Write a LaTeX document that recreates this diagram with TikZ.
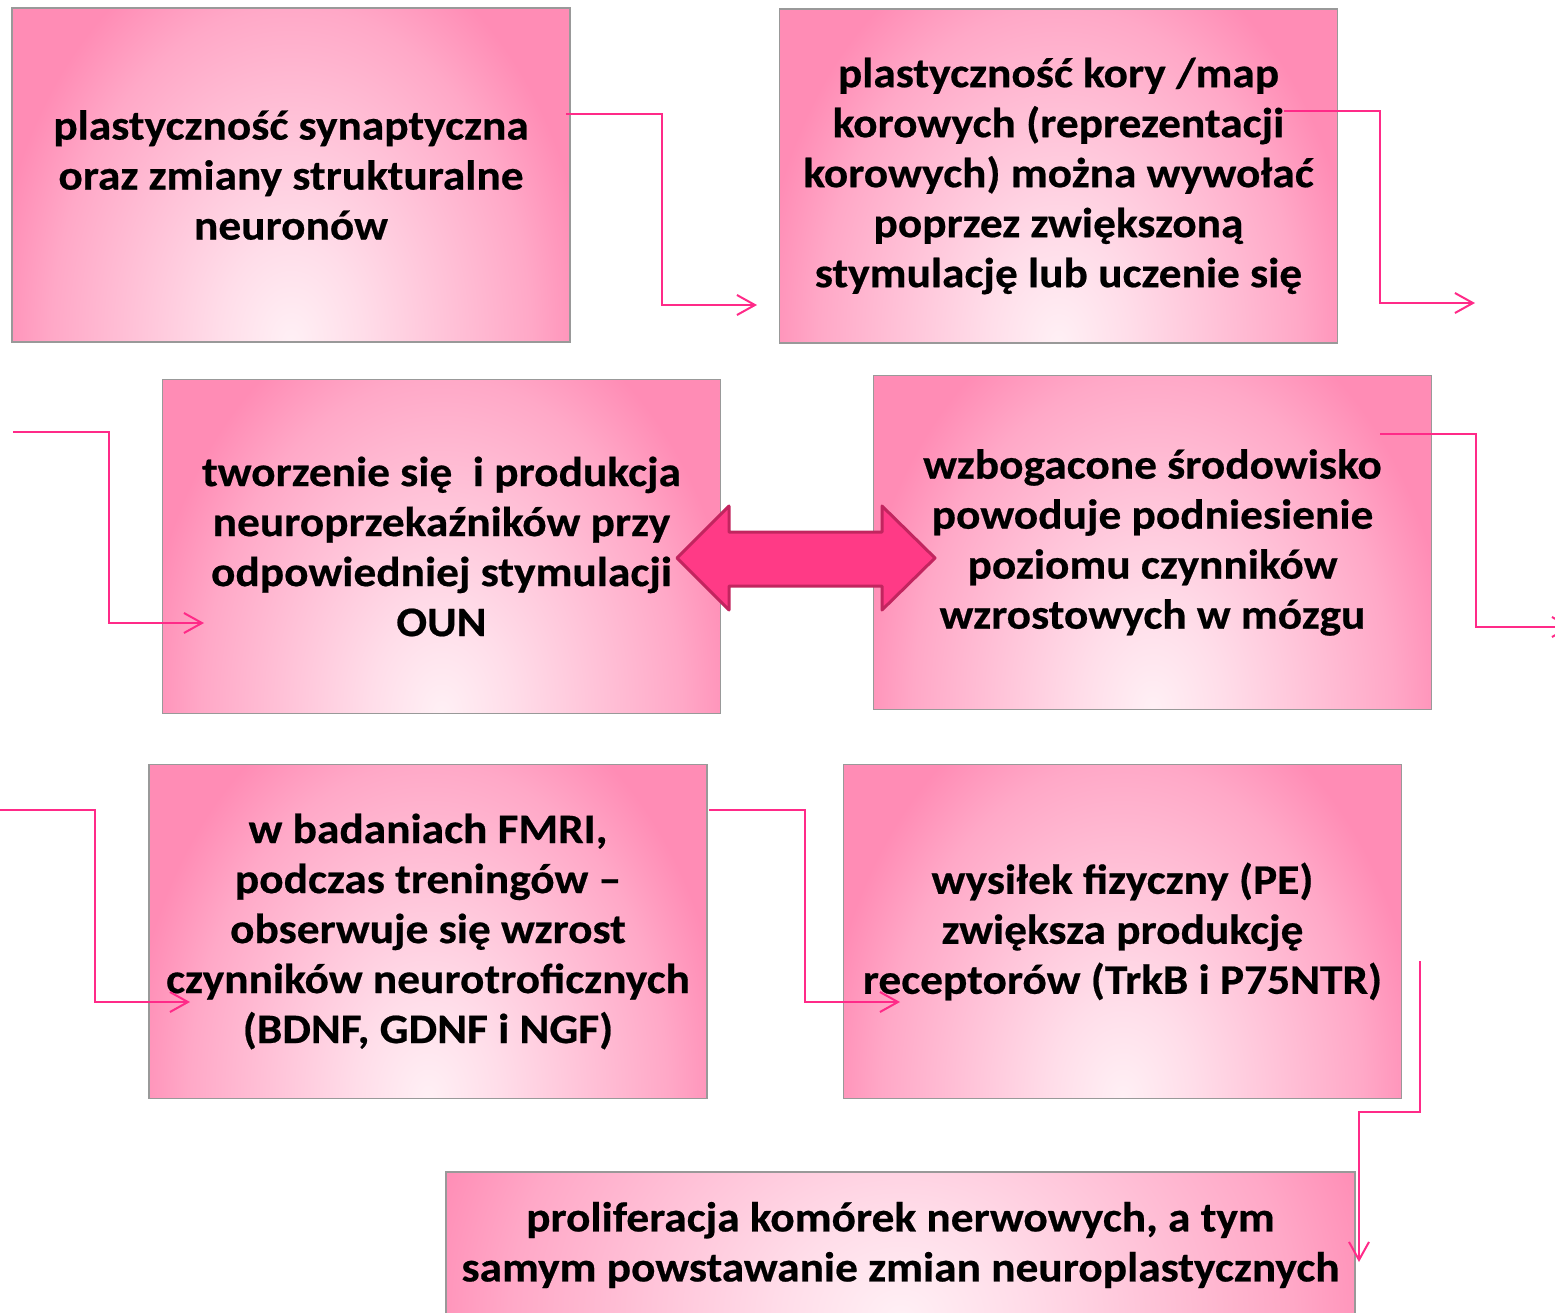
\documentclass[tikz,border=0pt]{standalone}
\usepackage{fontspec}
\setmainfont{Carlito}
\newfontfamily\boxfont{Carlito}[FakeStretch=1.08, FakeBold=0.5]
\usetikzlibrary{arrows.meta,calc}
\definecolor{pinkin}{HTML}{FFF0F5}
\definecolor{pinklight}{HTML}{FFDDE9}
\definecolor{pinkmid}{HTML}{FFA8C7}
\definecolor{pinkout}{HTML}{FF8CB5}
\definecolor{conncol}{HTML}{FF2A88}
\definecolor{dafill}{HTML}{FF3A86}
\definecolor{dadraw}{HTML}{C2255F}
\pgfdeclareradialshading{boxshade}{\pgfpoint{0bp}{0bp}}{color(0bp)=(pinkin); color(6bp)=(pinklight); color(20bp)=(pinkmid); color(25bp)=(pinkout); color(50bp)=(pinkout)}
\def\boxrx{150pt}
\tikzset{
  gradrx/.code={\def\boxrx{#1}},
  pbox/.style={draw=black!40, line width=0.6pt, rectangle, minimum width=279pt, minimum height=167pt,
    align=center, inner sep=0pt, font=\boxfont\bfseries\fontsize{21pt}{25pt}\selectfont,
    path picture={
      \fill[pinkout] (path picture bounding box.south west) rectangle (path picture bounding box.north east);
      \shade[shading=boxshade] (path picture bounding box.south) ellipse [x radius=\boxrx, y radius=210pt];}},
  conn/.style={draw=conncol, line width=1pt, -{Straight Barb[length=9pt,width=10pt,line width=1pt]}},
}
\begin{document}
\begin{tikzpicture}[x=0.5pt,y=-0.5pt]
\useasboundingbox (0,0) rectangle (1555,1313);
\clip (0,0) rectangle (1555,1313);
\fill[white] (0,0) rectangle (1555,1313);
\node[pbox] (A) at (291,175) {plastyczność synaptyczna\\oraz zmiany strukturalne\\neuronów};
\node[pbox] (B) at (1058.5,176) {plastyczność kory /map\\korowych (reprezentacji\\korowych) można wywołać\\poprzez zwiększoną\\stymulację lub uczenie się};
\node[pbox] (C) at (441.5,546.5) {tworzenie się\ \ i produkcja\\neuroprzekaźników przy\\odpowiedniej stymulacji\\OUN};
\node[pbox] (D) at (1152.5,542.5) {wzbogacone środowisko\\powoduje podniesienie\\poziomu czynników\\wzrostowych w mózgu};
\node[pbox] (E) at (428,931.5) {w badaniach FMRI,\\podczas treningów –\\obserwuje się wzrost\\czynników neurotroficznych\\(BDNF, GDNF i NGF)};
\node[pbox] (F) at (1122.5,931.5) {wysiłek fizyczny (PE)\\zwiększa produkcję\\receptorów (TrkB i P75NTR)};
\node[pbox, gradrx=245pt, minimum width=454.5pt, minimum height=73pt] (G) at (900.5,1245) {proliferacja komórek nerwowych, a tym\\samym powstawanie zmian neuroplastycznych};
% double arrow between C and D
\draw[fill=dafill, draw=dadraw, line width=1.5pt, line join=round]
  (677,558) -- (729,506) -- (729,532) -- (882,532) -- (882,506) -- (935,558)
  -- (882,610) -- (882,586) -- (729,586) -- (729,610) -- cycle;
% connector end points
\coordinate (a1) at (566,114);
\coordinate (b1) at (757,305);
\coordinate (b2) at (1284,111);
\coordinate (b3) at (1475,303);
\coordinate (c0) at (13,432);
\coordinate (c1) at (204,623);
\coordinate (d1) at (1380,434);
\coordinate (d2) at (1572,627);
\coordinate (e0) at (-1,810);
\coordinate (e1) at (190,1002);
\coordinate (e2) at (709,810);
\coordinate (f1) at (900,1002);
\coordinate (f2) at (1420,961);
\coordinate (g1) at (1359,1262);
\draw[conn] (a1) -| ($(a1)!0.5!(b1)$) |- (b1);
\draw[conn] (b2) -| ($(b2)!0.5!(b3)$) |- (b3);
\draw[conn] (c0) -| ($(c0)!0.5!(c1)$) |- (c1);
\draw[conn] (d1) -| ($(d1)!0.5!(d2)$) |- (d2);
\draw[conn] (e0) -| ($(e0)!0.5!(e1)$) |- (e1);
\draw[conn] (e2) -| ($(e2)!0.5!(f1)$) |- (f1);
\draw[conn] (f2) |- ($(f2)!0.5!(g1)$) -| (g1);
\end{tikzpicture}
\end{document}
